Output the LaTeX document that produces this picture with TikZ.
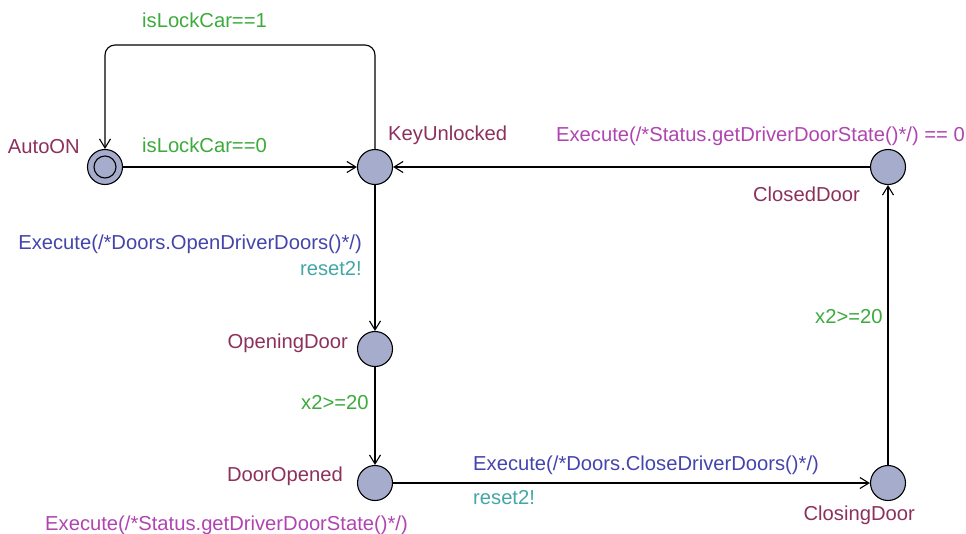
\documentclass[tikz,border=0pt]{standalone}
\usepackage{fontspec}
\setmainfont{Liberation Sans}
\usetikzlibrary{arrows.meta}
\definecolor{locfill}{RGB}{166,173,204}
\definecolor{locname}{RGB}{140,48,92}
\definecolor{guardc}{RGB}{60,170,60}
\definecolor{updc}{RGB}{68,68,172}
\definecolor{syncc}{RGB}{68,166,166}
\definecolor{selc}{RGB}{176,68,176}
\begin{document}
\begin{tikzpicture}[x=1pt,y=-1pt,
  loc/.style={circle,draw,line width=1.1pt,fill=locfill,minimum size=35pt,inner sep=0pt},
  initring/.style={circle,draw,line width=1.1pt,minimum size=22pt,inner sep=0pt},
  tr/.style={draw,line width=1.1pt,-{Straight Barb[length=9pt,width=11pt,line width=1.1pt]}},
  lbl/.style={font=\fontsize{20.2}{23}\selectfont,inner sep=0pt},
  lname/.style={lbl,text=locname},
  guard/.style={lbl,text=guardc},
  upd/.style={lbl,text=updc},
  sync/.style={lbl,text=syncc},
  call/.style={lbl,text=selc}]
\useasboundingbox (0,0) rectangle (966,533);

% locations
\node[loc] (auto) at (105,167) {};
\node[initring] (autoin) at (auto.center) {};
\node[loc] (key) at (375,167) {};
\node[loc] (closed) at (888,167) {};
\node[loc] (opening) at (375,349) {};
\node[loc] (opened) at (375,483) {};
\node[loc] (closing) at (888,483) {};

% transitions
\draw[tr] (auto) -- (key);
\draw[tr,rounded corners=10pt] (key.north) -- (key.north |- 0,45) -- (auto.north |- 0,45) -- (auto.north);
\draw[tr] (closed) -- (key);
\draw[tr] (key) -- (opening);
\draw[tr] (opening) -- (opened);
\draw[tr] (opened) -- (closing);
\draw[tr] (closing) -- (closed);

% location names
\node[lname,anchor=base east] (nauto) at (80,153) {AutoON};
\node[lname,anchor=base west] (nkey) at (388,140) {KeyUnlocked};
\node[lname,anchor=base east] (nclosed) at (860,201) {ClosedDoor};
\node[lname,anchor=base east] (nopening) at (348,348) {OpeningDoor};
\node[lname,anchor=base east] (nopened) at (343,481) {DoorOpened};
\node[lname,anchor=base east] (nclosing) at (915,520) {ClosingDoor};

% labels on transitions
\node[guard,anchor=base west] (g1) at (142,27) {isLockCar==1};
\node[guard,anchor=base west] (g0) at (142,152) {isLockCar==0};
\node[call,anchor=base east] (c1) at (965,141) {Execute(/*Status.getDriverDoorState()*/) == 0};
\node[upd,anchor=base east] (u1) at (362,249) {Execute(/*Doors.OpenDriverDoors()*/)};
\node[sync,anchor=base east] (s1) at (362,275) {reset2!};
\node[guard,anchor=base west] (x1) at (301,409) {x2>=20};
\node[guard,anchor=base west] (x2) at (815,323) {x2>=20};
\node[upd,anchor=base west] (u2) at (473,470) {Execute(/*Doors.CloseDriverDoors()*/)};
\node[sync,anchor=base west] (s2) at (473,504) {reset2!};
\node[call,anchor=base west] (c2) at (45,530) {Execute(/*Status.getDriverDoorState()*/)};
\end{tikzpicture}
\end{document}
